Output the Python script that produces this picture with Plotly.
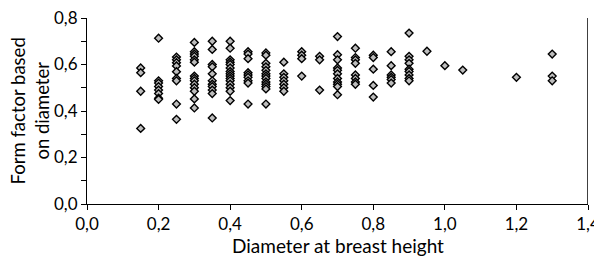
import plotly.graph_objects as go

# Diameter classes (x) and the form factors observed in each class (y)
diameters = [0.15, 0.2, 0.25, 0.3, 0.35, 0.4, 0.45, 0.5, 0.55, 0.6, 0.65,
             0.7, 0.75, 0.8, 0.85, 0.9, 0.95, 1.0, 1.05, 1.2, 1.3]
form_factors = [
    [0.585, 0.565, 0.485, 0.325],                                         # 0.15
    [0.713, 0.53, 0.52, 0.505, 0.49, 0.475, 0.455, 0.45],                 # 0.20
    [0.632, 0.62, 0.608, 0.594, 0.569, 0.54, 0.53, 0.43, 0.364],         # 0.25
    [0.695, 0.655, 0.645, 0.635, 0.62, 0.61, 0.55, 0.54, 0.53, 0.515,
     0.5, 0.485, 0.452, 0.413],                                           # 0.30
    [0.70, 0.665, 0.60, 0.59, 0.56, 0.53, 0.515, 0.505, 0.49, 0.475,
     0.37],                                                               # 0.35
    [0.70, 0.67, 0.62, 0.61, 0.60, 0.585, 0.57, 0.56, 0.55, 0.54, 0.53,
     0.515, 0.50, 0.485, 0.445],                                          # 0.40
    [0.655, 0.645, 0.625, 0.565, 0.555, 0.545, 0.53, 0.52, 0.43],        # 0.45
    [0.65, 0.64, 0.605, 0.59, 0.575, 0.56, 0.55, 0.54, 0.525, 0.515,
     0.505, 0.495, 0.43],                                                 # 0.50
    [0.61, 0.56, 0.545, 0.53, 0.515, 0.50, 0.485],                        # 0.55
    [0.655, 0.64, 0.625, 0.55],                                           # 0.60
    [0.635, 0.62, 0.49],                                                  # 0.65
    [0.72, 0.642, 0.62, 0.585, 0.575, 0.56, 0.54, 0.525, 0.515, 0.505,
     0.47],                                                               # 0.70
    [0.67, 0.63, 0.62, 0.605, 0.555, 0.54, 0.525, 0.515],                 # 0.75
    [0.64, 0.63, 0.58, 0.51, 0.46],                                       # 0.80
    [0.655, 0.595, 0.555, 0.545, 0.535, 0.52],                            # 0.85
    [0.735, 0.635, 0.62, 0.605, 0.58, 0.57, 0.555, 0.54, 0.53],           # 0.90
    [0.657],                                                              # 0.95
    [0.595],                                                              # 1.00
    [0.576],                                                              # 1.05
    [0.545],                                                              # 1.20
    [0.645, 0.55, 0.53],                                                  # 1.30
]

x_vals = []
y_vals = []
for d, ys in zip(diameters, form_factors):
    for v in ys:
        x_vals.append(d)
        y_vals.append(v)

x_title = "Diameter at breast height"
y_title = "Form factor based<br>on diameter"

FONT = "Lato"

fig = go.Figure(
    go.Scatter(
        x=x_vals,
        y=y_vals,
        mode="markers",
        marker=dict(symbol="diamond", size=6, color="#bdbdbd",
                    line=dict(color="black", width=1.4)),
        showlegend=False,
        cliponaxis=False,
    )
)

axis_common = dict(
    showgrid=False,
    zeroline=False,
    showline=True,
    linecolor="black",
    linewidth=1,
    ticks="outside",
    ticklen=5,
    tickwidth=1,
    tickcolor="black",
    tickformat=".1f",
    tickfont=dict(family=FONT, size=17, color="black"),
    automargin=False,
    ticklabeloverflow="allow",
)

fig.update_xaxes(range=[0, 1.4], dtick=0.2, tick0=0, **axis_common)
fig.update_yaxes(range=[0, 0.8], dtick=0.2, tick0=0,
                 minor=dict(dtick=0.1, ticks="outside", ticklen=5,
                            tickcolor="black", tickwidth=1),
                 **axis_common)

fig.add_shape(type="line", xref="x", yref="paper", x0=1.4, x1=1.4,
              y0=0, y1=1, line=dict(color="black", width=1.5))

fig.add_annotation(text=x_title, xref="paper", yref="paper", x=0.5, y=-0.222,
                   xanchor="center", yanchor="middle", showarrow=False,
                   font=dict(family=FONT, size=19, color="black"))
fig.add_annotation(text=y_title, xref="paper", yref="paper", x=-0.113, y=0.5,
                   xanchor="center", yanchor="middle", textangle=-90,
                   showarrow=False,
                   font=dict(family=FONT, size=18.5, color="black"))

# The page body adds an 8px offset, so the figure is 8px smaller than the window
fig.update_layout(
    width=594,
    height=250,
    margin=dict(l=79, r=14, t=10, b=54),
    paper_bgcolor="white",
    plot_bgcolor="white",
    separators=",.",
    font=dict(family=FONT, color="black"),
)

fig.write_html("out.html")
